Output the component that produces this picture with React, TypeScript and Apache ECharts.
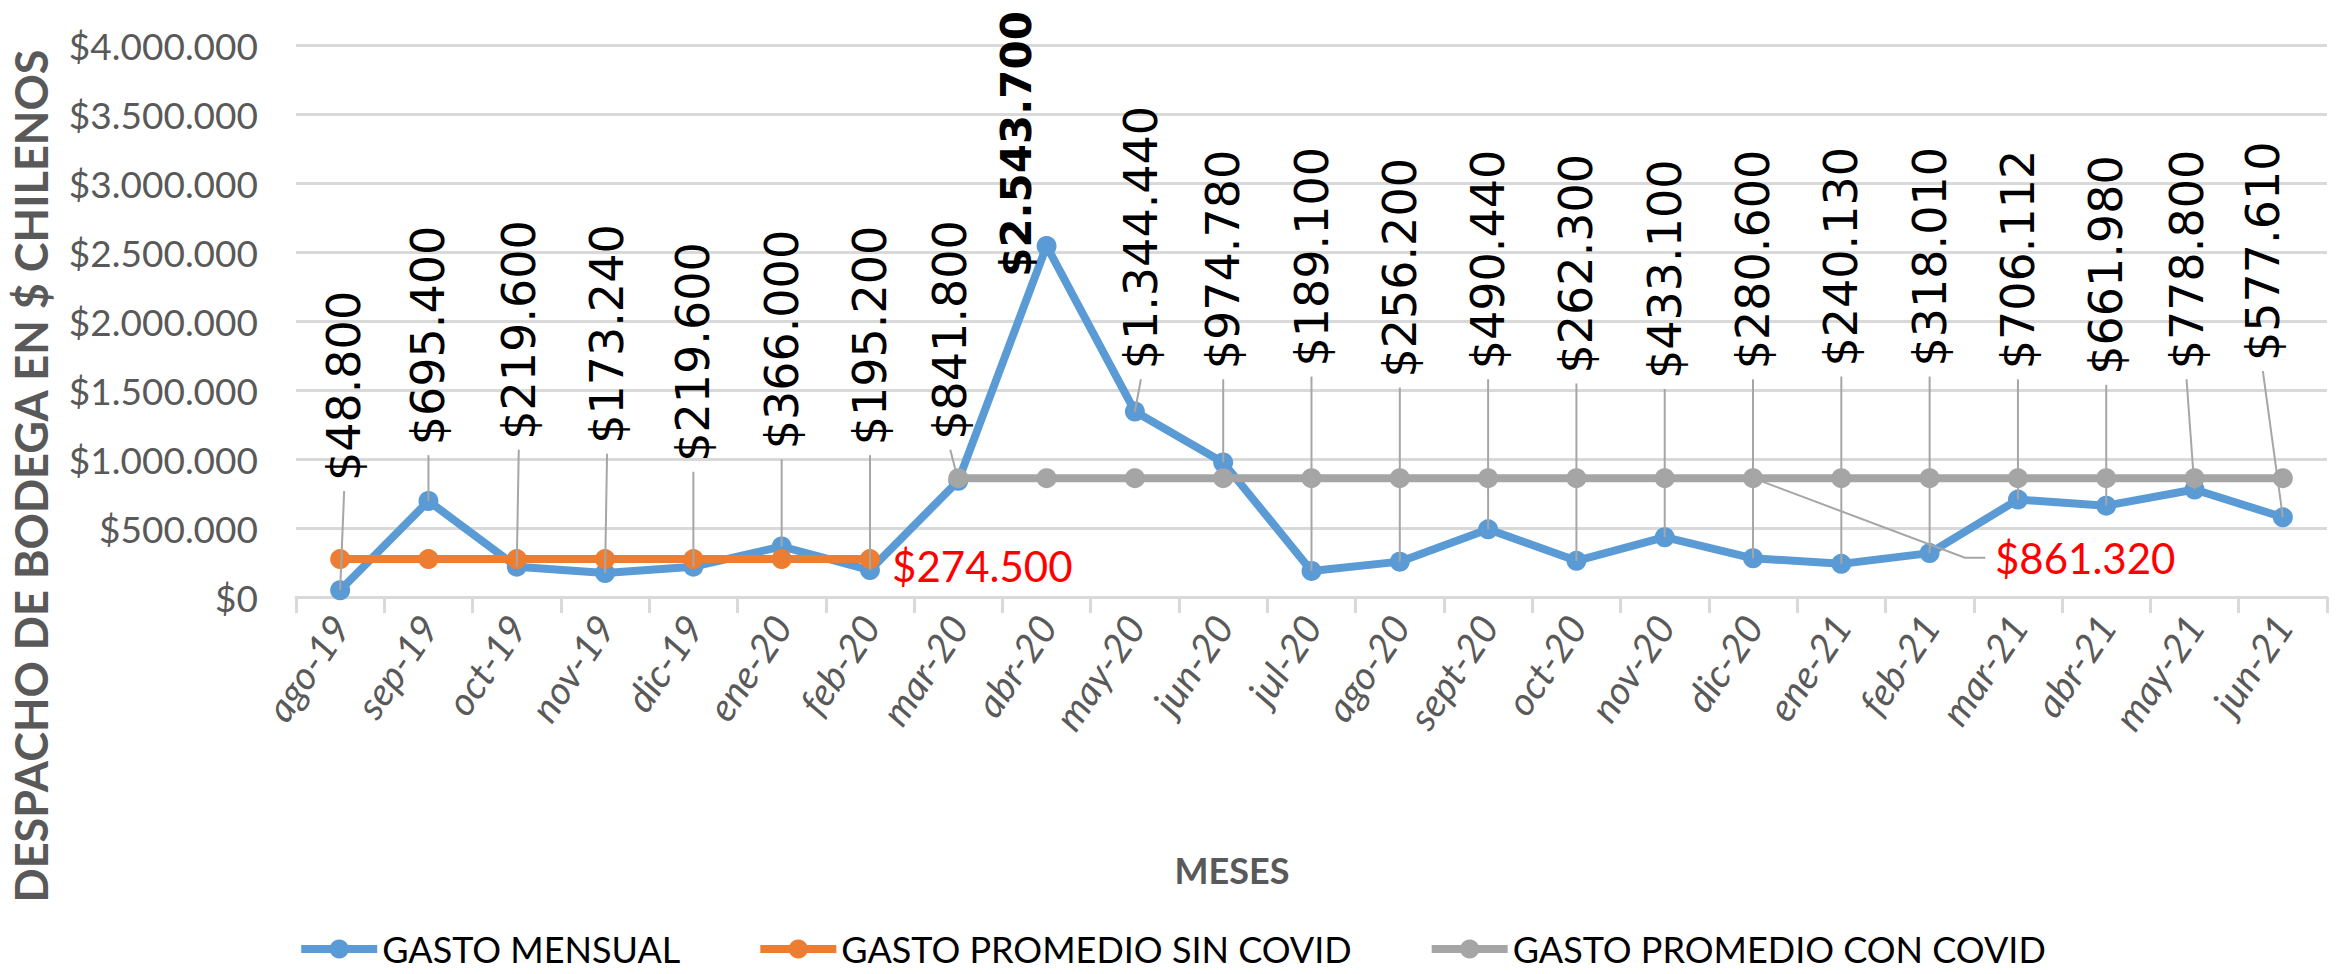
import React, { useEffect, useRef } from "react";
import * as echarts from "echarts";

// ---------- data ----------
const MONTHS = [
  "ago-19", "sep-19", "oct-19", "nov-19", "dic-19", "ene-20", "feb-20", "mar-20",
  "abr-20", "may-20", "jun-20", "jul-20", "ago-20", "sept-20", "oct-20", "nov-20",
  "dic-20", "ene-21", "feb-21", "mar-21", "abr-21", "may-21", "jun-21",
];
const GASTO_MENSUAL = [
  48800, 695400, 219600, 173240, 219600, 366000, 195200, 841800,
  2543700, 1344440, 974780, 189100, 256200, 490440, 262300, 433100,
  280600, 240130, 318010, 706112, 661980, 778800, 577610,
];
const PROMEDIO_SIN_COVID = [
  274500, 274500, 274500, 274500, 274500, 274500, 274500,
  null, null, null, null, null, null, null, null, null, null, null, null, null, null, null, null,
];
const PROMEDIO_CON_COVID = [
  null, null, null, null, null, null, null,
  861320, 861320, 861320, 861320, 861320, 861320, 861320, 861320, 861320,
  861320, 861320, 861320, 861320, 861320, 861320, 861320,
];
const SERIES_NAMES = ["GASTO MENSUAL", "GASTO PROMEDIO SIN COVID", "GASTO PROMEDIO CON COVID"];
const Y_MIN = 0;
const Y_MAX = 4000000;
const Y_STEP = 500000;

// ---------- label layout (value level where each vertical label starts, px shift) ----------
const LABEL_BASE = [
  840000, 1100000, 1140000, 1110000, 980000, 1070000, 1100000, 1140000,
  2320000, 1650000, 1650000, 1670000, 1590000, 1650000, 1620000, 1580000,
  1650000, 1670000, 1670000, 1650000, 1610000, 1650000, 1710000,
];
const LABEL_DX = [4, 0, 2, 2, 0, 0, 0, -8, -30, 6, 0, 0, 0, 0, 0, 0, 0, 0, 0, 0, 0, -8, -20];

const fmt = (v: number) => "$" + Math.round(v).toString().replace(/\B(?=(\d{3})+(?!\d))/g, ".");

const BLUE = "#5B9BD5";
const ORANGE = "#ED7D31";
const GRAY = "#A5A5A5";
const AXIS_TEXT = "#595959";
const GRID = "#D9D9D9";

export default function App() {
  const ref = useRef<HTMLDivElement>(null);

  useEffect(() => {
    if (!ref.current) return;
    const chart = echarts.init(ref.current, undefined, { renderer: "svg" });
    const maxVal = Math.max(...GASTO_MENSUAL);

    const labelData = GASTO_MENSUAL.map((v, i) => [i, v, LABEL_BASE[i], LABEL_DX[i], v === maxVal ? 1 : 0]);

    const lastSin = PROMEDIO_SIN_COVID.reduce((a: number, v, i) => (v != null ? i : a), 0);
    const calloutData = [
      // [index, value, label x shift (categories), label level, leader]
      [lastSin, PROMEDIO_SIN_COVID[lastSin] as number, 0.25, 225000, 0],
      [16, PROMEDIO_CON_COVID[16] as number, 2.74, 285000, 1],
    ];

    chart.setOption({
      animation: false,
      backgroundColor: "#ffffff",
      grid: { left: 296, right: 16, top: 45, bottom: 377, containLabel: false },
      xAxis: {
        type: "category",
        data: MONTHS,
        boundaryGap: true,
        axisLine: { show: true, lineStyle: { color: GRID, width: 3 } },
        axisTick: { show: true, length: 16, lineStyle: { color: GRID, width: 3 } },
        axisLabel: {
          rotate: 56,
          margin: 22,
          interval: 0,
          color: AXIS_TEXT,
          fontFamily: "Lato",
          fontStyle: "italic",
          fontSize: 39,
        },
        splitLine: { show: false },
      },
      yAxis: {
        type: "value",
        min: Y_MIN,
        max: Y_MAX,
        interval: Y_STEP,
        axisLine: { show: false },
        axisTick: { show: false },
        axisLabel: {
          margin: 38,
          color: AXIS_TEXT,
          fontFamily: "Lato",
          fontSize: 37,
          formatter: (v: number) => fmt(v),
        },
        splitLine: { show: true, lineStyle: { color: GRID, width: 3 } },
      },
      legend: {
        data: SERIES_NAMES,
        left: "center",
        top: 926,
        itemWidth: 76,
        itemHeight: 24,
        itemGap: 76,
        lineStyle: { width: 8 },
        textStyle: { fontFamily: "Lato", fontSize: 36, color: "#000000" },
      },
      graphic: [
        {
          type: "text",
          x: 31,
          y: 476,
          rotation: Math.PI / 2,
          style: {
            text: "DESPACHO DE BODEGA EN $ CHILENOS",
            fontFamily: "Lato",
            fontWeight: "bold",
            fontSize: 45,
            fill: AXIS_TEXT,
            align: "center",
            verticalAlign: "middle",
          },
        },
        {
          type: "text",
          x: 1232,
          y: 870,
          style: {
            text: "MESES",
            fontFamily: "Lato",
            fontWeight: "bold",
            fontSize: 36,
            fill: AXIS_TEXT,
            align: "center",
            verticalAlign: "middle",
          },
        },
      ],
      series: [
        {
          name: SERIES_NAMES[0],
          type: "line",
          data: GASTO_MENSUAL,
          symbol: "circle",
          symbolSize: 20,
          itemStyle: { color: BLUE },
          lineStyle: { color: BLUE, width: 8 },
          z: 2,
        },
        {
          name: SERIES_NAMES[1],
          type: "line",
          data: PROMEDIO_SIN_COVID,
          symbol: "circle",
          symbolSize: 20,
          itemStyle: { color: ORANGE },
          lineStyle: { color: ORANGE, width: 8 },
          z: 3,
        },
        {
          name: SERIES_NAMES[2],
          type: "line",
          data: PROMEDIO_CON_COVID,
          symbol: "circle",
          symbolSize: 20,
          itemStyle: { color: GRAY },
          lineStyle: { color: GRAY, width: 8 },
          z: 3,
        },
        {
          type: "custom",
          name: "labels",
          data: labelData,
          encode: { x: 0, y: 1 },
          clip: false,
          silent: true,
          z: 5,
          renderItem: (params: any, api: any) => {
            const i = api.value(0);
            const v = api.value(1);
            const base = api.value(2);
            const dx = api.value(3);
            const bold = api.value(4) === 1;
            const p = api.coord([i, v]);
            const b = api.coord([i, base]);
            const x = b[0] + dx;
            const children: any[] = [];
            if (!bold) {
              children.push({
                type: "line",
                shape: { x1: x, y1: b[1] + 10, x2: p[0], y2: p[1] },
                style: { stroke: "#A6A6A6", lineWidth: 2 },
              });
            }
            children.push({
              type: "text",
              x,
              y: b[1],
              rotation: Math.PI / 2,
              style: {
                text: fmt(v),
                fill: "#000000",
                fontFamily: "DejaVu Sans",
                fontWeight: bold ? "bold" : "normal",
                fontSize: bold ? 42 : 46,
                align: "left",
                verticalAlign: "middle",
              },
            });
            return { type: "group", children };
          },
        },
        {
          type: "custom",
          name: "callouts",
          data: calloutData,
          encode: { x: 0, y: 1 },
          clip: false,
          silent: true,
          z: 5,
          renderItem: (params: any, api: any) => {
            const i = api.value(0);
            const v = api.value(1);
            const shift = api.value(2);
            const level = api.value(3);
            const leader = api.value(4) === 1;
            const p = api.coord([i, v]);
            const bw = api.size([1, 0])[0];
            const ly = api.coord([i, level])[1];
            const tx = p[0] + shift * bw;
            const children: any[] = [];
            if (leader) {
              children.push({
                type: "polyline",
                shape: {
                  points: [
                    [p[0], p[1]],
                    [tx - 0.34 * bw, ly],
                    [tx - 0.11 * bw, ly],
                  ],
                },
                style: { stroke: "#A6A6A6", lineWidth: 2, fill: null },
              });
            }
            children.push({
              type: "text",
              x: tx,
              y: ly,
              style: {
                text: fmt(v),
                fill: "#FF0000",
                fontFamily: "Lato",
                fontSize: 42,
                align: "left",
                verticalAlign: "middle",
              },
            });
            return { type: "group", children };
          },
        },
      ],
    });

    return () => chart.dispose();
  }, []);

  return (
    <div
      ref={ref}
      style={{ position: "fixed", left: 0, top: 0, width: 2343, height: 974, background: "#fff" }}
    />
  );
}
